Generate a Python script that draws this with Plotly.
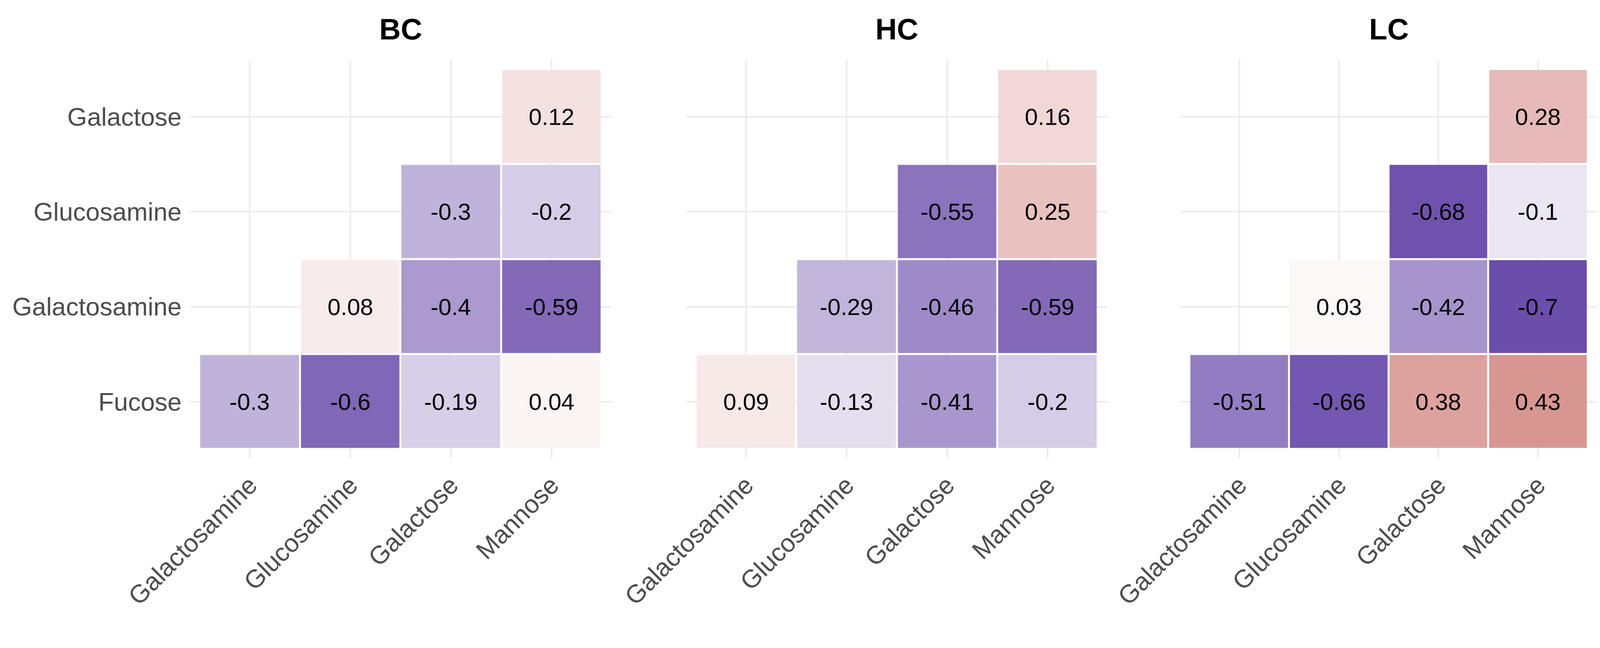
import plotly.graph_objects as go

# ---- data ----
panels = ["BC", "HC", "LC"]
row_labels = ["Galactose", "Glucosamine", "Galactosamine", "Fucose"]   # top -> bottom
col_labels = ["Galactosamine", "Glucosamine", "Galactose", "Mannose"]

bc_values = [
    [None, None, None, 0.12],
    [None, None, -0.3, -0.2],
    [None, 0.08, -0.4, -0.59],
    [-0.3, -0.6, -0.19, 0.04],
]
hc_values = [
    [None, None, None, 0.16],
    [None, None, -0.55, 0.25],
    [None, -0.29, -0.46, -0.59],
    [0.09, -0.13, -0.41, -0.2],
]
lc_values = [
    [None, None, None, 0.28],
    [None, None, -0.68, -0.1],
    [None, 0.03, -0.42, -0.7],
    [-0.51, -0.66, 0.38, 0.43],
]
all_values = [bc_values, hc_values, lc_values]

# ---- style ----
W, H = 4085, 1560
T, B = 145, 373
panel_px = [(478, 1557), (1749, 2827), (3013, 4081)]
L = panel_px[0][0]
R = W - panel_px[-1][1]
span = W - L - R
domains = [[(a - L) / span, (b - L) / span] for a, b in panel_px]

FONT = "Liberation Sans, Arial, sans-serif"
colorscale = [[0.0, "rgb(44,1,135)"], [0.5, "rgb(255,255,255)"], [1.0, "rgb(165,10,0)"]]

fig = go.Figure()
for i, (name, vals) in enumerate(zip(panels, all_values)):
    txt = [["" if v is None else str(v) for v in row] for row in vals]
    sfx = "" if i == 0 else str(i + 1)
    fig.add_trace(go.Heatmap(
        z=vals, x=col_labels, y=row_labels, text=txt,
        texttemplate="%{text}",
        textfont=dict(family=FONT, size=60, color="black"),
        colorscale=colorscale, zmin=-1, zmax=1, showscale=False,
        xgap=5, ygap=5, hoverinfo="skip",
        xaxis="x" + sfx, yaxis="y" + sfx,
    ))
    fig.layout["xaxis" + sfx] = dict(
        domain=domains[i], type="category", categoryorder="array",
        categoryarray=col_labels, range=[-0.595, 3.595], anchor="y" + sfx,
        showgrid=True, gridcolor="#ebebeb", gridwidth=3.5, zeroline=False,
        showline=False, ticks="", tickangle=-45, ticklabelstandoff=16,
        tickfont=dict(family=FONT, size=65, color="#4d4d4d"),
    )
    fig.layout["yaxis" + sfx] = dict(
        domain=[0, 1], type="category", categoryorder="array",
        categoryarray=row_labels[::-1], range=[-0.6, 3.6], anchor="x" + sfx,
        showgrid=True, gridcolor="#ebebeb", gridwidth=3.5, zeroline=False,
        showline=False, ticks="", showticklabels=(i == 0), ticklabelstandoff=20,
        tickfont=dict(family=FONT, size=65, color="#4d4d4d"),
    )
    fig.add_annotation(
        text="<b>%s</b>" % name, xref="paper", yref="paper",
        x=(domains[i][0] + domains[i][1]) / 2, y=1, yshift=79,
        xanchor="center", yanchor="middle", showarrow=False,
        font=dict(family=FONT, size=76, color="black"),
    )

fig.update_layout(
    width=W, height=H,
    margin=dict(l=L, r=R, t=T, b=B),
    paper_bgcolor="white", plot_bgcolor="white",
    showlegend=False,
)
fig.write_html("out.html")
